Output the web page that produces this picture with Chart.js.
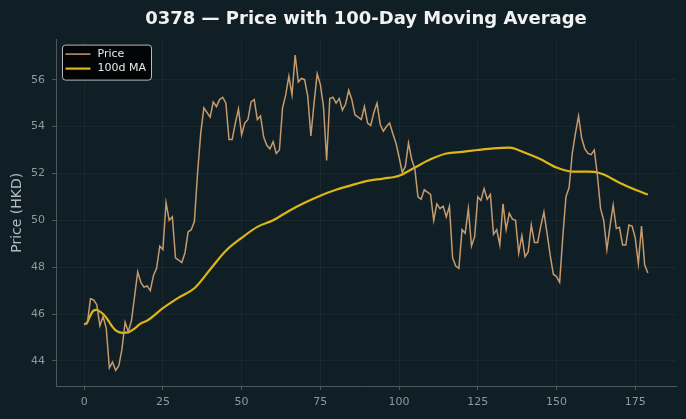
<!DOCTYPE html>
<html>
<head>
<meta charset="utf-8">
<script src="https://cdn.jsdelivr.net/npm/chart.js@4.4.1/dist/chart.umd.min.js"></script>
<style>
  html, body { margin: 0; padding: 0; background: #101f25; }
  #wrap { width: 686px; height: 419px; }
</style>
</head>
<body>
<div id="wrap"><canvas id="chart" width="686" height="419"></canvas></div>
<script>
// daily close, day 0..179
const price = [
  45.55, 45.6, 46.65, 46.6, 46.4, 45.5, 45.9, 45.4, 43.7, 43.95,
  43.6, 43.8, 44.5, 45.65, 45.25, 45.7, 46.75, 47.8, 47.35, 47.15,
  47.2, 47.0, 47.65, 47.95, 48.9, 48.75, 50.75, 50.0, 50.15, 48.4,
  48.3, 48.2, 48.6, 49.5, 49.6, 49.95, 52.0, 53.7, 54.8, 54.6,
  54.4, 55.05, 54.85, 55.15, 55.25, 55.0, 53.45, 53.45, 54.15, 54.75,
  53.65, 54.15, 54.3, 55.05, 55.15, 54.3, 54.45, 53.55, 53.2, 53.05,
  53.35, 52.85, 53.0, 54.8, 55.35, 56.15, 55.35, 57.05, 55.9, 56.05,
  56.0, 55.3, 53.6, 55.0, 56.25, 55.8, 54.85, 52.55, 55.2, 55.25,
  55.0, 55.2, 54.7, 54.95, 55.55, 55.15, 54.5, 54.4, 54.3, 54.85,
  54.15, 54.05, 54.6, 55.0, 54.1, 53.8, 54.0, 54.15, 53.7, 53.3,
  52.7, 52.05, 52.3, 53.3, 52.6, 52.2, 51.0, 50.9, 51.3, 51.2,
  51.1, 50.0, 50.7, 50.5, 50.6, 50.15, 50.6, 48.4, 48.05, 47.95,
  49.6, 49.45, 50.5, 48.9, 49.3, 51.0, 50.85, 51.35, 50.9, 51.1,
  49.4, 49.6, 48.95, 50.7, 49.6, 50.3, 50.05, 50.0, 48.6, 49.35,
  48.45, 48.65, 49.8, 49.05, 49.05, 49.75, 50.35, 49.45, 48.5, 47.7,
  47.6, 47.35, 49.3, 51.0, 51.4, 52.85, 53.7, 54.45, 53.5, 53.05,
  52.85, 52.8, 53.0, 51.9, 50.5, 50.0, 48.75, 49.75, 50.65, 49.65,
  49.7, 48.95, 48.95, 49.8, 49.75, 49.25, 48.15, 49.75, 48.1, 47.75
];
const days = price.map((_, i) => i);

// 100-day moving average, read at these days
const maDays = [0, 1, 2, 3, 4, 5, 6, 7, 8, 9, 10, 12, 14, 16, 18, 20, 25, 30, 35, 40,
  45, 50, 55, 60, 65, 70, 75, 80, 85, 90, 95, 100, 105, 110, 115, 120, 125, 130, 135, 140,
  145, 150, 155, 160, 162, 165, 170, 175, 179];
const maValues = [45.55, 45.65, 45.95, 46.15, 46.18, 46.1, 46.0, 45.85, 45.65, 45.45, 45.3, 45.2, 45.22, 45.38, 45.6, 45.72, 46.25, 46.7, 47.1, 47.9,
  48.7, 49.25, 49.72, 50.0, 50.4, 50.75, 51.05, 51.3, 51.5, 51.68, 51.78, 51.9, 52.25, 52.6, 52.85, 52.92, 53.0, 53.07, 53.1, 52.88,
  52.6, 52.25, 52.08, 52.08, 52.07, 51.95, 51.6, 51.3, 51.1];

const xTicks = [0, 25, 50, 75, 100, 125, 150, 175];
const yTicks = [44, 46, 48, 50, 52, 54, 56];

const tickColor = '#8f989c';
const gridColor = 'rgba(255,255,255,0.045)';
const spineColor = '#4d585d';

const boxLegend = {
  id: 'boxLegend',
  afterDatasetsDraw(chart) {
    const { ctx, chartArea } = chart;
    const x = chartArea.left + 6.5, y = chartArea.top + 5.5;
    ctx.save();
    ctx.fillStyle = 'rgba(0,0,0,0.85)';
    ctx.strokeStyle = '#b5bbbe';
    ctx.lineWidth = 1;
    ctx.beginPath();
    ctx.roundRect(x, y, 89, 35, 3);
    ctx.fill();
    ctx.stroke();
    ctx.font = '11px "DejaVu Sans"';
    ctx.textBaseline = 'middle';
    chart.data.datasets.forEach((ds, k) => {
      const ly = y + 9 + k * 14.5;
      ctx.strokeStyle = ds.borderColor;
      ctx.lineWidth = ds.borderWidth;
      ctx.beginPath();
      ctx.moveTo(x + 3, ly);
      ctx.lineTo(x + 28, ly);
      ctx.stroke();
      ctx.fillStyle = '#e8e8e8';
      ctx.fillText(ds.label, x + 35, ly);
    });
    ctx.restore();
  }
};

new Chart(document.getElementById('chart'), {
  type: 'line',
  data: {
    datasets: [
      {
        label: 'Price',
        data: price.map((v, i) => ({ x: days[i], y: v })),
        borderColor: '#c59a6d',
        borderWidth: 1.5,
        pointRadius: 0,
        tension: 0
      },
      {
        label: '100d MA',
        data: maValues.map((v, i) => ({ x: maDays[i], y: v })),
        borderColor: '#dcb516',
        borderWidth: 2.2,
        pointRadius: 0,
        cubicInterpolationMode: 'monotone'
      }
    ]
  },
  options: {
    responsive: false,
    animation: false,
    devicePixelRatio: 1,
    layout: { padding: { left: 0, right: 10, top: 0, bottom: 0 } },
    plugins: {
      legend: { display: false },
      tooltip: { enabled: false },
      title: {
        display: true,
        text: '0378 \u2014 Price with 100-Day Moving Average',
        color: '#f2f2f2',
        fullSize: false,
        font: { family: 'DejaVu Sans', size: 18, weight: 'bold' },
        padding: { top: 9, bottom: 9 }
      }
    },
    scales: {
      x: {
        type: 'linear',
        min: -8.95,
        max: 187.95,
        afterBuildTicks: s => { s.ticks = xTicks.map(v => ({ value: v })); },
        afterFit: s => { s.height = 33; },
        ticks: {
          color: tickColor,
          font: { family: 'DejaVu Sans', size: 11 },
          padding: 6,
          maxRotation: 0
        },
        grid: { color: gridColor, tickColor: spineColor, tickLength: 4 },
        border: { color: spineColor, width: 1 }
      },
      y: {
        type: 'linear',
        min: 42.93,
        max: 57.71,
        afterBuildTicks: s => { s.ticks = yTicks.map(v => ({ value: v })); },
        afterFit: s => { s.width = 56; },
        ticks: {
          color: tickColor,
          font: { family: 'DejaVu Sans', size: 11 },
          padding: 7
        },
        grid: { color: gridColor, tickColor: spineColor, tickLength: 4 },
        border: { color: spineColor, width: 1 },
        title: {
          display: true,
          text: 'Price (HKD)',
          color: '#b3bbbf',
          font: { family: 'DejaVu Sans', size: 14 },
          padding: { top: 9, bottom: 0 }
        }
      }
    }
  },
  plugins: [boxLegend]
});
</script>
</body>
</html>
